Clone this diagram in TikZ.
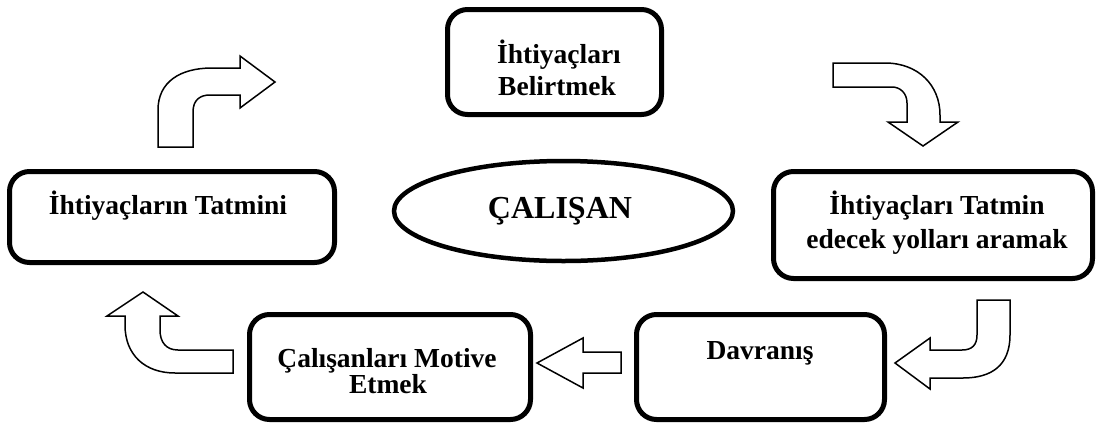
\documentclass[tikz,border=0pt]{standalone}
\usepackage{fontspec}
\setmainfont{Liberation Serif}
\usetikzlibrary{shapes.geometric}
\tikzset{
  box/.style={draw=black, line width=5pt, rounded corners=20pt, minimum width=#1},
  lbl/.style={anchor=base, inner sep=0pt, font=\fontsize{27.5}{32}\selectfont\bfseries},
  bigl/.style={anchor=base, inner sep=0pt, font=\fontsize{32}{38}\selectfont\bfseries},
  blockarrow/.style={draw=black, line width=1.5pt, fill=white, line join=miter}
}
\begin{document}
\begin{tikzpicture}[x=1pt,y=-1pt]
\useasboundingbox (0,0) rectangle (1098,424);
% boxes
\node[box=214pt, minimum height=105pt] (top) at (554.5,62) {};
\node[box=325pt, minimum height=91pt] (left) at (172,217) {};
\node[box=319pt, minimum height=107pt] (right) at (933,225) {};
\node[box=281pt, minimum height=105pt] (motive) at (390,367) {};
\node[box=248pt, minimum height=105pt] (davranis) at (760.5,367) {};
\node[draw=black, line width=4.5pt, ellipse, minimum width=339pt, minimum height=100pt, inner sep=0pt] (emp) at (563.5,211) {};
% texts
\node[lbl] (t1a) at (559,63) {İhtiyaçları};
\node[lbl] (t1b) at (557,95) {Belirtmek};
\node[lbl] (t2) at (168,214) {İhtiyaçların Tatmini};
\node[lbl] (t3a) at (937,214) {İhtiyaçları Tatmin};
\node[lbl] (t3b) at (937,248) {edecek yolları aramak};
\node[bigl] (t4) at (560,218) {ÇALIŞAN};
\node[lbl] (t5a) at (387,367) {Çalışanları Motive};
\node[lbl] (t5b) at (388,393) {Etmek};
\node[lbl] (t6) at (760,359) {Davranış};
% block arrows
\draw[blockarrow] (158,147) -- (158,110) .. controls (158,82) and (180,68) .. (212,68) -- (240,68) -- (240,56) -- (275,82) -- (240,108) -- (240,95) -- (210,95) .. controls (200,95) and (193,100) .. (193,112) -- (193,147) -- cycle;
\draw[blockarrow] (833,63) -- (885,63) .. controls (918,63) and (940,85) .. (940,115) -- (940,122) -- (958,122) -- (923,146) -- (888,122) -- (907,122) -- (907,103) .. controls (907,93) and (900,87) .. (892,87) -- (833,87) -- cycle;
\draw[blockarrow] (977,300) -- (1010,300) -- (1010,335) .. controls (1010,365) and (992,378) .. (963,378) -- (930,378) -- (930,389) -- (895,363) -- (930,338) -- (930,350) -- (962,350) .. controls (972,350) and (977,345) .. (977,335) -- cycle;
\draw[blockarrow] (621,352) -- (583,352) -- (583,338) -- (537,363) -- (583,388) -- (583,373) -- (621,373) -- cycle;
\draw[blockarrow] (233,350) -- (178,350) .. controls (166,350) and (160,342) .. (160,330) -- (160,316) -- (178,316) -- (143,292) -- (107,316) -- (125,316) -- (125,325) .. controls (125,355) and (145,373) .. (175,373) -- (233,373) -- cycle;
\end{tikzpicture}
\end{document}
